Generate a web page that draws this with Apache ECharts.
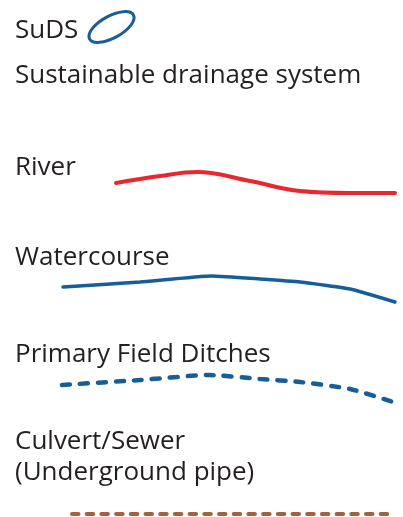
<!DOCTYPE html>
<html><head><meta charset="utf-8">
<script src="https://cdn.jsdelivr.net/npm/echarts@6/dist/echarts.min.js"></script>
<style>html,body{margin:0;padding:0;background:#fff}#c{width:403px;height:517px}</style>
</head><body><div id="c"></div>
<script>
// Legend labels
const labels = ["SuDS", "Sustainable drainage system", "River", "Watercourse", "Primary Field Ditches", "Culvert/Sewer", "(Underground pipe)"];
const labelCenters = [29, 74, 165.5, 256, 353, 439.5, 471];

// Line samples (x, y in canvas-like units)
const riverX = [116, 160, 197, 250, 300, 350, 395];
const riverY = [183, 176, 172, 181, 191, 193, 193];
const waterX = [63, 140, 212, 260, 300, 350, 395];
const waterY = [287, 282, 276, 279, 282, 289, 302];
const ditchX = [62, 140, 209, 260, 300, 350, 393];
const ditchY = [385, 380, 375, 379, 382, 389, 402];
const culvertX = [72, 392];
const culvertY = [514, 514];

const zip = (xs, ys) => xs.map((x, i) => [x, ys[i]]);
const chart = echarts.init(document.getElementById('c'), null, {renderer: 'canvas'});
const font = '"Open Sans", "Noto Sans", sans-serif';
const textEls = labels.map((t, i) => ({
  type: 'text', left: 15, top: labelCenters[i] - 11,
  style: {text: t, fontSize: 26, fontFamily: font, fill: '#231f20'}
}));
chart.setOption({
  animation: false,
  grid: {left: 0, right: 0, top: 0, bottom: 0},
  xAxis: {type: 'value', min: 0, max: 403, show: false},
  yAxis: {type: 'value', min: 0, max: 517, inverse: true, show: false},
  graphic: textEls.concat([{
    type: 'ellipse', shape: {cx: 111.5, cy: 27, rx: 25, ry: 11}, rotation: 0.5, originX: 111.5, originY: 27,
    style: {fill: 'none', stroke: '#1a5e96', lineWidth: 3}
  }]),
  series: [
    {type: 'line', data: zip(riverX, riverY), smooth: 0.4, showSymbol: false,
     lineStyle: {color: '#e8282f', width: 4, cap: 'round'}},
    {type: 'line', data: zip(waterX, waterY), smooth: 0.15, showSymbol: false,
     lineStyle: {color: '#175e98', width: 3.5, cap: 'round'}},
    {type: 'line', data: zip(ditchX, ditchY), smooth: 0.2, showSymbol: false,
     lineStyle: {color: '#175e98', width: 4.5, cap: 'round', type: [8, 10]}},
    {type: 'line', data: zip(culvertX, culvertY), showSymbol: false,
     lineStyle: {color: '#a8603a', width: 4, cap: 'round', type: [6.5, 8.2]}}
  ]
});
</script></body></html>
